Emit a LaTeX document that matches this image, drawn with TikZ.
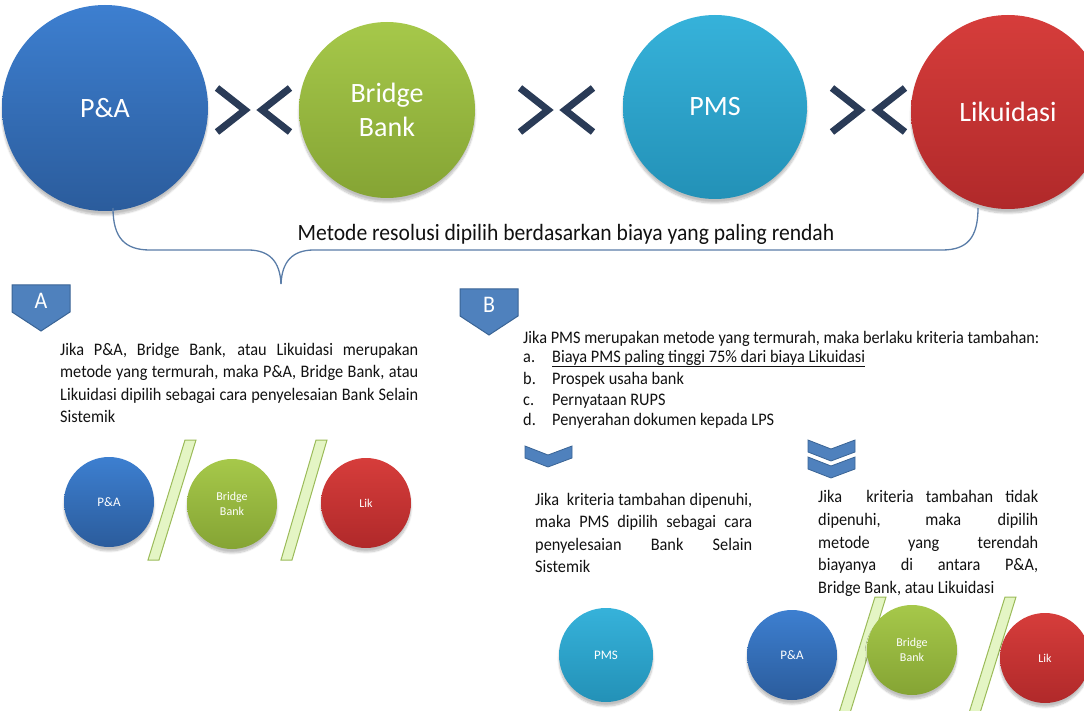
\documentclass[tikz,border=0pt]{standalone}
\usepackage{fontspec}
\usepackage{graphicx}
\setmainfont{Carlito}
\usetikzlibrary{shadows.blur}
\definecolor{bluet}{HTML}{3D7FD0}
\definecolor{blueb}{HTML}{2B5C9C}
\definecolor{greent}{HTML}{A6C84A}
\definecolor{greenb}{HTML}{85A434}
\definecolor{cyant}{HTML}{36B2DA}
\definecolor{cyanb}{HTML}{2391B7}
\definecolor{redt}{HTML}{D63D3B}
\definecolor{redb}{HTML}{B0292A}
\definecolor{navy}{HTML}{2A3B57}
\definecolor{pent}{HTML}{4F81BD}
\definecolor{pentb}{HTML}{3A6495}
\definecolor{bracec}{HTML}{5A7DA8}
\definecolor{slashf}{HTML}{E4F5C4}
\definecolor{slashb}{HTML}{9BBB59}
\definecolor{txt}{HTML}{111111}
\newcommand{\tallt}[1]{\scalebox{1}[1.08]{#1}}
\tikzset{
  ball/.style={circle, inner sep=0pt, minimum size=#1, text=white, align=center,
    blur shadow={shadow xshift=0pt, shadow yshift=-4pt, shadow blur steps=8, shadow opacity=25}},
  bluec/.style={top color=bluet, bottom color=blueb},
  greenc/.style={top color=greent, bottom color=greenb},
  cyanc/.style={top color=cyant, bottom color=cyanb},
  redc/.style={top color=redt, bottom color=redb},
  bigtxt/.style={font=\fontsize{28}{34}\selectfont},
  smalltxt/.style={font=\fontsize{13}{16}\selectfont},
  smalltxtb/.style={font=\fontsize{12}{15}\selectfont},
  gtsign/.style={draw=navy, line width=7pt, line join=miter},
  pentagon/.style={fill=pent, draw=pentb, line width=1pt},
  chev/.style={fill=pent, draw=pentb, line width=0.8pt},
  slash/.style={fill=slashf, draw=slashb, line width=1pt},
  bracel/.style={draw=bracec, line width=1.3pt},
  body/.style={anchor=base west, inner sep=0pt, text=txt, font=\fontsize{16.3}{20}\selectfont},
}
\begin{document}
\begin{tikzpicture}[x=1pt,y=-1pt]
\useasboundingbox (0,0) rectangle (1084,711);
\clip (0,0) rectangle (1084,711);
% big circles
\node[ball=206pt, bluec, bigtxt] (pa) at (105,108) {P\&A};
\node[ball=176pt, greenc, bigtxt] (bb) at (387,110) {Bridge\\Bank};
\node[ball=184pt, cyanc, bigtxt] (pms) at (715,107) {PMS};
\node[ball=194pt, redc, bigtxt] (lik) at (1008,112) {Likuidasi};
% >< signs
\draw[gtsign] (217,88) -- (245,110) -- (217,132);
\draw[gtsign] (290,88) -- (262,110) -- (290,132);
\draw[gtsign] (520,88) -- (548,110) -- (520,132);
\draw[gtsign] (593,88) -- (565,110) -- (593,132);
\draw[gtsign] (832,88) -- (860,110) -- (832,132);
\draw[gtsign] (905,88) -- (877,110) -- (905,132);
% brace
\coordinate (bl) at (113,208);
\coordinate (tip) at (281,284);
\coordinate (br) at (978,208);
\draw[bracel] (bl) .. controls (113,238) and (125,250) .. (150,250) -- (248,250)
  .. controls (270,250) and (280,262) .. (tip);
\draw[bracel] (tip) .. controls (282,262) and (292,250) .. (314,250) -- (942,250)
  .. controls (967,250) and (978,238) .. (br);
\node[inner sep=0pt, text=txt, font=\fontsize{21.6}{26}\selectfont] (title) at (566,234) {\tallt{Metode resolusi dipilih berdasarkan biaya yang paling rendah}};
% pentagons
\draw[pentagon] (12,285) -- (70,285) -- (70,312) -- (41,331) -- (12,312) -- cycle;
\node[text=white, font=\fontsize{22}{24}\selectfont, inner sep=0pt] (la) at (41,301) {\tallt{A}};
\draw[pentagon] (460,289) -- (518,289) -- (518,316) -- (489,335) -- (460,316) -- cycle;
\node[text=white, font=\fontsize{22}{24}\selectfont, inner sep=0pt] (lb) at (489,305) {\tallt{B}};
% text A
\node[body] (a1) at (60,355) {\tallt{\makebox[358pt][s]{Jika P\&A, Bridge Bank, atau Likuidasi merupakan}}};
\node[body] (a2) at (60,377) {\tallt{\makebox[358pt][s]{metode yang termurah, maka P\&A, Bridge Bank, atau}}};
\node[body] (a3) at (60,400) {\tallt{\makebox[358pt][s]{Likuidasi dipilih sebagai cara penyelesaian Bank Selain}}};
\node[body] (a4) at (60,422) {\tallt{Sistemik}};
% text B
\node[body] (b0) at (523,343) {\tallt{Jika PMS merupakan metode yang termurah, maka berlaku kriteria tambahan:}};
\node[body] (b1l) at (523,362) {\tallt{a.}};
\node[body] (b1) at (552,362) {\tallt{\underline{Biaya PMS paling tinggi 75\% dari biaya Likuidasi}}};
\node[body] (b2l) at (523,384) {\tallt{b.}};
\node[body] (b2) at (552,384) {\tallt{Prospek usaha bank}};
\node[body] (b3l) at (523,405) {\tallt{c.}};
\node[body] (b3) at (552,405) {\tallt{Pernyataan RUPS}};
\node[body] (b4l) at (523,425) {\tallt{d.}};
\node[body] (b4) at (552,425) {\tallt{Penyerahan dokumen kepada LPS}};
% chevrons
\draw[chev] (525,446) -- (548,455) -- (572,446) -- (572,458) -- (548,467) -- (525,458) -- cycle;
\draw[chev] (808,440) -- (831,449) -- (855,440) -- (855,452) -- (831,461) -- (808,452) -- cycle;
\draw[chev] (808,457) -- (831,466) -- (855,457) -- (855,469) -- (831,478) -- (808,469) -- cycle;
% text C
\node[body] (c1) at (535,505) {\tallt{\makebox[217pt][s]{Jika \ kriteria tambahan dipenuhi,}}};
\node[body] (c2) at (535,527) {\tallt{\makebox[217pt][s]{maka PMS dipilih sebagai cara}}};
\node[body] (c3) at (535,550) {\tallt{\makebox[217pt][s]{penyelesaian Bank Selain}}};
\node[body] (c4) at (535,572) {\tallt{Sistemik}};
% text D
\node[body] (d1) at (818,502) {\tallt{\makebox[220pt][s]{Jika \ kriteria tambahan tidak}}};
\node[body] (d2) at (818,525) {\tallt{\makebox[220pt][s]{dipenuhi, maka dipilih}}};
\node[body] (d3) at (818,548) {\tallt{\makebox[220pt][s]{metode yang terendah}}};
\node[body] (d4) at (818,570) {\tallt{\makebox[220pt][s]{biayanya di antara P\&A,}}};
\node[body] (d5) at (818,593) {\tallt{Bridge Bank, atau Likuidasi}};
% small circles left
\draw[slash] (185,440) -- (196,440) -- (159,560) -- (148,560) -- cycle;
\draw[slash] (316,440) -- (327,440) -- (292,560) -- (281,560) -- cycle;
\node[ball=90pt, bluec, smalltxt] (spa1) at (109,502) {P\&A};
\node[ball=90pt, greenc, smalltxtb] (sbb1) at (232,504) {Bridge\\Bank};
\node[ball=90pt, redc, smalltxtb] (slik1) at (366,503) {Lik};
% small circles right
\draw[slash] (875,597) -- (886,597) -- (850,713) -- (839,713) -- cycle;
\draw[slash] (1005,597) -- (1016,597) -- (980,713) -- (969,713) -- cycle;
\node[ball=94pt, cyanc, smalltxt] (spms) at (606,655) {PMS};
\node[ball=90pt, bluec, smalltxt] (spa2) at (792,655) {P\&A};
\node[ball=90pt, greenc, smalltxtb] (sbb2) at (912,650) {Bridge\\Bank};
\node[ball=90pt, redc, smalltxtb] (slik2) at (1045,658) {Lik};
\end{tikzpicture}
\end{document}
